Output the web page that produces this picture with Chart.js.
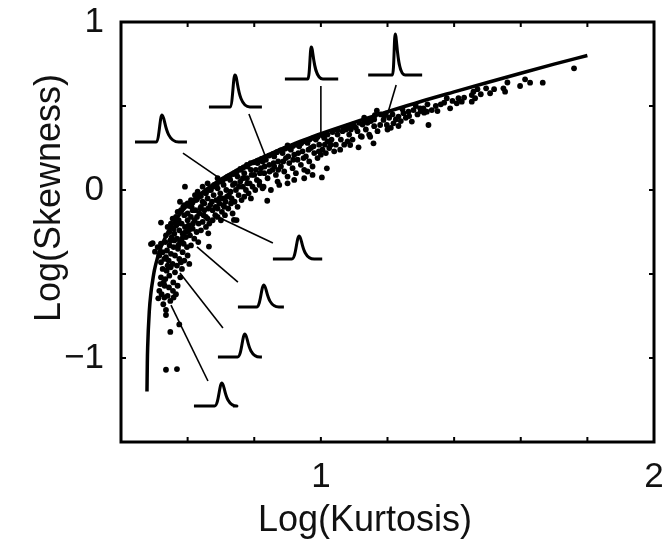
<!DOCTYPE html>
<html>
<head>
<meta charset="utf-8">
<script src="https://cdn.jsdelivr.net/npm/chart.js@4.4.0/dist/chart.umd.min.js"></script>
<style>
  html, body { margin: 0; padding: 0; background: #fff; }
  #wrap { width: 672px; height: 543px; }
</style>
</head>
<body>
<div id="wrap"><canvas id="skewChart"></canvas></div>
<script>
// axis ticks (labels only where the picture shows them)
const xTickLabels = { 1: '1', 2: '2' };
const yTickLabels = { 1: '1', 0: '0', '-1': '\u22121' };

// boundary curve, log(kurtosis) vs log(skewness)
const curveKurtosis = [0.478, 0.479, 0.48, 0.485, 0.49, 0.495, 0.5, 0.51, 0.52, 0.525, 0.55, 0.575, 0.6, 0.625, 0.65, 0.7, 0.75, 0.8, 0.85, 0.9, 0.95, 1.0, 1.1, 1.2, 1.3, 1.4, 1.5, 1.6, 1.7, 1.8];
const curveSkewness = [-1.2, -1.03, -0.94, -0.72, -0.61, -0.54, -0.48, -0.40, -0.34, -0.316, -0.22, -0.148, -0.09, -0.045, -0.005, 0.064, 0.121, 0.172, 0.217, 0.259, 0.298, 0.335, 0.403, 0.466, 0.527, 0.584, 0.64, 0.695, 0.749, 0.801];

// measured samples [log kurtosis, log skewness]
const samples = [
  [0.535,-1.07],[0.568,-1.066],[0.548,-0.845],[0.575,-0.80],[0.535,-0.744],[0.535,-0.714],[0.512,-0.645],
  [0.49,-0.322],[0.495,-0.317],[0.502,-0.367],[0.52,-0.194],
  [0.515,-0.60],[0.522,-0.62],[0.53,-0.64],[0.54,-0.63],[0.548,-0.66],[0.558,-0.64],[0.527,-0.68],
  [0.518,-0.56],[0.531,-0.57],[0.544,-0.58],[0.556,-0.60],[0.565,-0.62],[0.52,-0.52],[0.533,-0.53],
  [0.545,-0.51],[0.557,-0.55],[0.57,-0.57],[0.525,-0.47],[0.537,-0.48],[0.549,-0.46],[0.562,-0.49],
  [0.578,-0.52],[0.52,-0.43],[0.53,-0.41],[0.543,-0.42],[0.555,-0.44],[0.568,-0.45],[0.583,-0.47],
  [0.515,-0.39],[0.525,-0.37],[0.538,-0.36],[0.55,-0.38],[0.562,-0.39],[0.575,-0.41],[0.59,-0.42],
  [0.51,-0.34],[0.52,-0.32],[0.533,-0.31],[0.546,-0.33],[0.558,-0.34],[0.571,-0.35],[0.585,-0.37],
  [0.6,-0.39],[0.605,-0.44],
  [0.535,-0.27],[0.545,-0.25],[0.552,-0.28],[0.56,-0.26],[0.568,-0.29],[0.577,-0.31],[0.588,-0.32],
  [0.598,-0.34],[0.61,-0.33],[0.54,-0.22],[0.55,-0.2],[0.558,-0.23],[0.566,-0.21],[0.575,-0.24],
  [0.585,-0.26],[0.595,-0.28],[0.607,-0.27],[0.62,-0.29],[0.632,-0.31],[0.555,-0.17],[0.565,-0.16],
  [0.573,-0.18],[0.582,-0.2],[0.592,-0.22],[0.603,-0.21],[0.615,-0.23],[0.627,-0.25],[0.64,-0.24],
  [0.57,-0.13],[0.58,-0.12],[0.59,-0.15],[0.6,-0.14],[0.61,-0.16],[0.621,-0.18],[0.633,-0.2],
  [0.645,-0.19],[0.655,-0.22],[0.59,-0.09],[0.6,-0.08],[0.612,-0.1],[0.623,-0.12],[0.635,-0.14],
  [0.648,-0.15],[0.66,-0.17],[0.577,-0.07],[0.622,-0.03],[0.592,0.02],[0.662,-0.258],[0.664,-0.337],
  [0.625,-0.06],[0.635,-0.04],[0.645,-0.07],[0.655,-0.02],[0.66,-0.05],[0.668,-0.09],[0.675,-0.12],
  [0.683,-0.15],[0.69,-0.11],[0.64,-0.1],[0.65,-0.12],[0.67,0.0],[0.678,-0.03],[0.686,-0.06],
  [0.695,-0.08],[0.703,-0.13],[0.71,-0.1],[0.68,0.03],[0.69,0.01],[0.698,-0.02],[0.706,-0.05],
  [0.714,-0.07],[0.722,-0.11],[0.73,-0.08],[0.7,0.05],[0.708,0.03],[0.716,0.0],[0.724,-0.03],
  [0.732,-0.05],[0.741,-0.07],[0.75,-0.1],[0.72,0.08],[0.728,0.06],[0.736,0.03],[0.745,0.0],
  [0.753,-0.03],[0.762,-0.06],[0.77,-0.04],[0.74,0.1],[0.75,0.08],[0.758,0.05],[0.766,0.02],
  [0.775,0.0],[0.783,-0.02],[0.79,-0.05],[0.76,0.12],[0.77,0.1],[0.778,0.07],[0.786,0.04],
  [0.795,0.02],[0.803,0.0],[0.78,0.14],[0.79,0.12],[0.8,0.09],[0.808,0.06],[0.816,0.03],
  [0.825,0.01],[0.747,-0.179],[0.739,-0.178],[0.665,-0.2],[0.655,-0.16],[0.675,-0.18],[0.69,-0.16],
  [0.712,-0.15],[0.735,-0.14],[0.7,-0.18],[0.645,0.02],[0.66,0.04],[0.63,-0.01],[0.69,0.07],
  [0.81,0.16],[0.82,0.13],[0.83,0.1],[0.84,0.07],[0.835,0.18],[0.845,0.15],[0.855,0.12],
  [0.865,0.09],[0.87,0.05],[0.86,0.2],[0.872,0.17],[0.88,0.14],[0.89,0.11],[0.9,0.08],
  [0.885,0.22],[0.895,0.19],[0.905,0.16],[0.915,0.13],[0.925,0.1],[0.91,0.24],[0.92,0.21],
  [0.93,0.18],[0.94,0.15],[0.95,0.12],[0.935,0.26],[0.945,0.23],[0.955,0.2],[0.965,0.17],
  [0.975,0.14],[0.96,0.28],[0.97,0.25],[0.98,0.22],[0.99,0.19],[1.0,0.21],[0.985,0.3],
  [0.995,0.27],[1.005,0.24],[1.015,0.22],[1.025,0.25],[1.01,0.31],[1.02,0.29],[1.03,0.27],
  [1.04,0.23],[0.839,-0.064],[1.003,0.075],[1.018,0.129],[0.9,0.265],[0.815,0.05],[0.828,0.02],
  [0.85,0.0],[0.875,0.03],[0.9,0.04],[0.92,0.06],[0.95,0.07],[0.975,0.09],[0.96,0.11],[0.825,0.17],[0.86,0.14],
  [1.05,0.33],[1.06,0.3],[1.07,0.27],[1.075,0.36],[1.085,0.33],[1.095,0.3],[1.088,0.268],
  [1.1,0.38],[1.11,0.35],[1.12,0.32],[1.113,0.254],[1.125,0.39],[1.135,0.36],[1.145,0.33],
  [1.148,0.317],[1.123,0.317],[1.158,0.278],[1.15,0.41],[1.16,0.38],[1.17,0.35],[1.168,0.472],
  [1.178,0.387],[1.188,0.417],[1.198,0.387],[1.218,0.397],[1.233,0.381],[1.233,0.437],[1.248,0.457],
  [1.263,0.466],[1.278,0.476],[1.273,0.407],[1.323,0.387],[1.19,0.44],[1.205,0.43],[1.215,0.45],
  [1.225,0.42],[1.24,0.41],[1.255,0.43],[1.265,0.44],[1.29,0.45],[1.3,0.47],[1.31,0.46],
  [1.16,0.42],[1.14,0.4],[1.13,0.41],[1.105,0.37],[1.09,0.36],[1.065,0.35],[1.2,0.36],[1.21,0.37],
  [1.298,0.486],[1.308,0.486],[1.318,0.466],[1.333,0.476],[1.378,0.546],[1.388,0.486],[1.408,0.516],
  [1.413,0.546],[1.423,0.526],[1.453,0.526],[1.453,0.565],[1.458,0.585],[1.463,0.546],[1.496,0.605],
  [1.508,0.576],[1.548,0.605],[1.553,0.585],[1.598,0.619],[1.613,0.659],[1.628,0.639],[1.666,0.639],
  [1.76,0.724],[1.345,0.5],[1.36,0.51],[1.37,0.52],[1.35,0.47],[1.395,0.53],[1.43,0.55],[1.48,0.57],[1.52,0.6],
  [0.56,-0.3],[0.572,-0.33],[0.583,-0.29],[0.594,-0.25],[0.604,-0.24],[0.616,-0.2],[0.628,-0.16],
  [0.638,-0.11],[0.65,-0.08],[0.662,-0.11],[0.673,-0.07],[0.684,-0.1],[0.696,-0.05],[0.707,-0.09],
  [0.718,-0.04],[0.729,-0.01],[0.742,0.04],[0.754,0.02],[0.766,0.07],[0.779,0.04],[0.792,0.09],
  [0.805,0.12],[0.817,0.1],[0.831,0.14],[0.846,0.11],[0.858,0.16],[0.872,0.12],[0.887,0.17],
  [0.902,0.2],[0.917,0.18],[0.932,0.22],[0.948,0.19],[0.963,0.24],[0.978,0.26],[0.994,0.23],
  [1.012,0.27],[1.032,0.3],[1.045,0.27],[1.058,0.24],[1.08,0.29],[0.61,-0.06],[0.615,-0.12],
  [0.6,-0.18],[0.587,-0.1],[0.57,-0.2],[0.548,-0.3],[0.535,-0.4],[0.528,-0.55],[0.54,-0.45],[0.58,-0.43],
  [0.705,0.055],[0.715,0.07],[0.727,0.085],[0.738,0.095],[0.748,0.11],[0.758,0.125],[0.768,0.135],
  [0.778,0.15],[0.789,0.16],[0.798,0.165],[0.81,0.175],[0.822,0.185],[0.833,0.195],[0.845,0.205],
  [0.857,0.215],[0.868,0.225],[0.879,0.235],[0.892,0.245],[0.904,0.25],[0.916,0.262],[0.928,0.27],
  [0.941,0.278],[0.953,0.29],[0.966,0.3],[0.978,0.31],[0.99,0.315],[1.005,0.325],[1.02,0.33],
  [1.035,0.345],[1.05,0.355],[1.068,0.37],[1.082,0.38],[1.097,0.39],[1.115,0.4],[1.13,0.43],
  [1.145,0.42],[1.162,0.445],[1.18,0.45],[1.195,0.455],[1.245,0.48],[1.285,0.5],[1.32,0.51],
  [0.605,-0.095],[0.615,-0.075],[0.628,-0.055],[0.64,-0.035],[0.652,-0.015],[0.664,0.0],[0.676,0.02],
  [0.688,0.035],[1.56,0.64],[1.47,0.6]
];

// pulse-shape insets: baseline span, peak position/height, leader line (data units)
const glyphs = [
  { left: 0.442, right: 0.598, base: 0.286, peak: 0.523, top: 0.446, rise: 0.018, fall: 0.05, from: [0.586, 0.220], to: [0.703, 0.060] },
  { left: 0.664, right: 0.823, base: 0.494, peak: 0.742, top: 0.685, rise: 0.015, fall: 0.045, from: [0.784, 0.452], to: [0.832, 0.208] },
  { left: 0.892, right: 1.052, base: 0.661, peak: 0.971, top: 0.851, rise: 0.01, fall: 0.035, from: [1.0, 0.619], to: [1.0, 0.339] },
  { left: 1.142, right: 1.304, base: 0.685, peak: 1.223, top: 0.929, rise: 0.008, fall: 0.03, from: [1.226, 0.625], to: [1.202, 0.464] },
  { left: 0.856, right: 1.004, base: -0.411, peak: 0.935, top: -0.274, rise: 0.022, fall: 0.045, from: [0.856, -0.315], to: [0.691, -0.161] },
  { left: 0.751, right: 0.889, base: -0.696, peak: 0.829, top: -0.565, rise: 0.022, fall: 0.045, from: [0.751, -0.548], to: [0.628, -0.339] },
  { left: 0.691, right: 0.823, base: -0.994, peak: 0.772, top: -0.857, rise: 0.022, fall: 0.045, from: [0.706, -0.821], to: [0.577, -0.494] },
  { left: 0.619, right: 0.736, base: -1.286, peak: 0.703, top: -1.149, rise: 0.022, fall: 0.045, from: [0.661, -1.137], to: [0.55, -0.685] },
];

const FONT = '"Liberation Sans", Arial, Helvetica, sans-serif';

const framePlugin = {
  id: 'frame',
  afterDatasetsDraw(chart) {
    const { ctx, chartArea: a, scales: { x, y } } = chart;
    ctx.save();
    ctx.strokeStyle = '#000';
    ctx.lineCap = 'butt';
    // leader lines
    ctx.lineWidth = 1.6;
    glyphs.forEach((g) => {
      ctx.beginPath();
      ctx.moveTo(x.getPixelForValue(g.from[0]), y.getPixelForValue(g.from[1]));
      ctx.lineTo(x.getPixelForValue(g.to[0]), y.getPixelForValue(g.to[1]));
      ctx.stroke();
    });
    // pulse shapes
    ctx.lineWidth = 3;
    ctx.lineJoin = 'round';
    glyphs.forEach((g) => {
      const bx0 = x.getPixelForValue(g.left), bx1 = x.getPixelForValue(g.right);
      const px = x.getPixelForValue(g.peak);
      const r = x.getPixelForValue(g.peak) - x.getPixelForValue(g.peak - g.rise);
      const f = x.getPixelForValue(g.peak + g.fall) - px;
      const by = y.getPixelForValue(g.base), ty = y.getPixelForValue(g.top);
      ctx.beginPath();
      ctx.moveTo(bx0, by);
      ctx.lineTo(px - r, by);
      ctx.bezierCurveTo(px - r * 0.45, by, px - r * 0.35, ty, px, ty);
      ctx.bezierCurveTo(px + f * 0.2, ty, px + f * 0.15, by, px + f, by);
      ctx.lineTo(bx1, by);
      ctx.stroke();
    });
    // frame and inward ticks on all sides
    ctx.lineWidth = 3;
    ctx.lineJoin = 'miter';
    ctx.strokeRect(a.left, a.top, a.right - a.left, a.bottom - a.top);
    ctx.lineWidth = 2;
    ctx.beginPath();
    x.ticks.forEach((t) => {
      const p = x.getPixelForValue(t.value);
      if (p <= a.left + 2 || p >= a.right - 2) return;
      ctx.moveTo(p, a.bottom); ctx.lineTo(p, a.bottom - 5);
      ctx.moveTo(p, a.top); ctx.lineTo(p, a.top + 5);
    });
    y.ticks.forEach((t) => {
      const p = y.getPixelForValue(t.value);
      if (p <= a.top + 2 || p >= a.bottom - 2) return;
      ctx.moveTo(a.left, p); ctx.lineTo(a.left + 5, p);
      ctx.moveTo(a.right, p); ctx.lineTo(a.right - 5, p);
    });
    ctx.stroke();
    // axis titles
    ctx.fillStyle = '#111';
    ctx.font = `36px ${FONT}`;
    ctx.textAlign = 'center';
    ctx.textBaseline = 'middle';
    ctx.fillText('Log(Kurtosis)', 365, 521);
    ctx.translate(50, 198);
    ctx.rotate(-Math.PI / 2);
    ctx.fillText('Log(Skewness)', 0, 0);
    ctx.restore();
  },
};

const ctx = document.getElementById('skewChart');
new Chart(ctx, {
  type: 'scatter',
  data: {
    datasets: [
      {
        data: samples.map(([k, s]) => ({ x: k, y: s })),
        backgroundColor: '#000', borderWidth: 0, pointRadius: 2.9, pointHoverRadius: 2.9,
      },
      {
        type: 'line',
        data: curveKurtosis.map((k, i) => ({ x: k, y: curveSkewness[i] })),
        borderColor: '#000', borderWidth: 3.5, pointRadius: 0,
        cubicInterpolationMode: 'monotone', fill: false,
      },
    ],
  },
  options: {
    responsive: true, maintainAspectRatio: false, animation: false,
    layout: { padding: { left: 0, top: 22, right: 18, bottom: 0 } },
    plugins: { legend: { display: false }, tooltip: { enabled: false } },
    scales: {
      x: {
        type: 'linear', min: 0.4, max: 2,
        afterFit: (s) => { s.height = 101; s.paddingLeft = 0; s.paddingRight = 0; },
        grid: { display: false, drawTicks: false }, border: { display: false },
        ticks: {
          stepSize: 0.2, padding: 14, color: '#111', maxRotation: 0, autoSkip: false,
          font: { family: FONT, size: 35 },
          callback: (v) => xTickLabels[Math.round(v * 10) / 10] || '',
        },
      },
      y: {
        type: 'linear', min: -1.5, max: 1,
        afterFit: (s) => { s.width = 121; s.paddingTop = 0; s.paddingBottom = 0; },
        grid: { display: false, drawTicks: false }, border: { display: false },
        ticks: {
          stepSize: 0.5, padding: 17, color: '#111', autoSkip: false,
          font: { family: FONT, size: 35 },
          callback: (v) => yTickLabels[Math.round(v * 10) / 10] || '',
        },
      },
    },
  },
  plugins: [framePlugin],
});
</script>
</body>
</html>
